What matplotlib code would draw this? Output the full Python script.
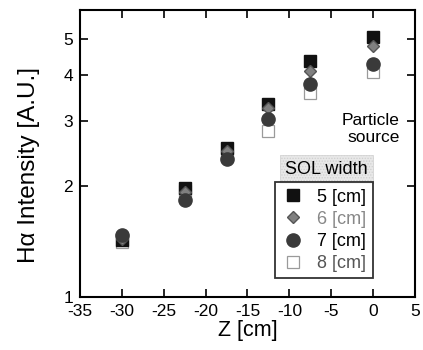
import numpy as np
import matplotlib.pyplot as plt
from matplotlib.patches import Rectangle
from matplotlib.ticker import FixedLocator, NullLocator, NullFormatter

plt.rcParams['font.family'] = ['Liberation Sans', 'DejaVu Sans']
plt.rcParams['axes.unicode_minus'] = False
plt.rcParams['hatch.linewidth'] = 0.6

# Data
z = [-30, -22.5, -17.5, -12.5, -7.5, 0]
sol_5 = [1.43, 1.98, 2.54, 3.35, 4.37, 5.08]
sol_6 = [1.44, 1.93, 2.49, 3.25, 4.11, 4.80]
sol_7 = [1.47, 1.83, 2.37, 3.04, 3.79, 4.30]
sol_8 = [1.41, 1.94, 2.41, 2.83, 3.57, 4.07]
labels = ['5 [cm]', '6 [cm]', '7 [cm]', '8 [cm]']

fig = plt.figure(figsize=(4.23, 3.5), dpi=100)
ax = fig.add_axes([0.189, 0.151, 0.792, 0.82])

ax.plot(z, sol_5, 's', ms=9, mfc='#111111', mec='#111111', label=labels[0], zorder=3)
ax.plot(z, sol_6, 'D', ms=6.5, mfc='#808080', mec='#555555', label=labels[1], zorder=4)
ax.plot(z, sol_7, 'o', ms=9.5, mfc='#3a3a3a', mec='#3a3a3a', label=labels[2], zorder=5)
ax.plot(z, sol_8, 's', ms=9, mfc='none', mec='#9a9a9a', mew=0.9,
        ls='none', label=labels[3], zorder=2)

ax.set_yscale('log')
ax.set_xlim(-35, 5)
ax.set_ylim(1, 6)
ax.set_xticks(np.arange(-35, 6, 5))
ax.yaxis.set_major_locator(FixedLocator([1, 2, 3, 4, 5]))
ax.yaxis.set_minor_locator(NullLocator())
ax.yaxis.set_minor_formatter(NullFormatter())
ax.set_yticklabels(['1', '2', '3', '4', '5'])
ax.tick_params(direction='in', top=True, right=True, length=6, width=1.2,
               labelsize=12.5, pad=5)
for s in ax.spines.values():
    s.set_linewidth(1.5)

ax.set_xlabel('Z [cm]', fontsize=15.5, labelpad=1)
ax.set_ylabel('H\u03b1 Intensity [A.U.]', fontsize=17.5)
ax.yaxis.set_label_coords(-0.12, 0.46)

ax.text(0.955, 0.585, 'Particle\nsource', transform=ax.transAxes,
        ha='right', va='center', fontsize=12.5, linespacing=1.15)

leg = ax.legend(loc='lower left', bbox_to_anchor=(0.582, 0.066), fontsize=13,
                frameon=True, fancybox=False, edgecolor='black',
                handletextpad=0.7, borderpad=0.35, labelspacing=0.28,
                handlelength=1.3, borderaxespad=0)
leg.get_frame().set_linewidth(1.3)
leg.get_texts()[1].set_color('#888888')
leg.get_texts()[3].set_color('#555555')

# gray title box above the legend
ax.add_patch(Rectangle((0.597, 0.396), 0.278, 0.099, transform=ax.transAxes,
                       fc='#e8e8e8', ec='#cfcfcf', hatch='......', lw=0.5,
                       zorder=1))
ax.text(0.736, 0.446, 'SOL width', transform=ax.transAxes, ha='center',
        va='center', fontsize=13, zorder=6)

fig.savefig('out.png', dpi=100)
